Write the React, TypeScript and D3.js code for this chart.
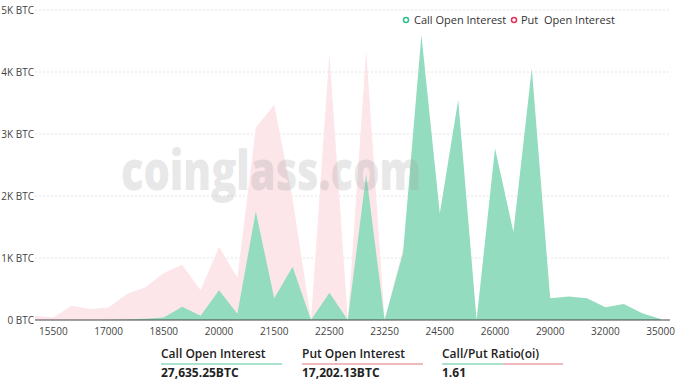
import React from 'react'
import * as d3 from 'd3'

// strike prices (category axis)
const strikes = [
  '15000', '15500', '16000', '16500', '17000', '17500', '18000', '18500', '19000', '19500',
  '20000', '20500', '21000', '21500', '22000', '22250', '22500', '22750', '23000', '23250',
  '23500', '24000', '24500', '25000', '25500', '26000', '27000', '28000', '29000', '30000',
  '31000', '32000', '33000', '34000', '35000',
]

// open interest in BTC
const callOI = [
  0, 0, 0, 0, 0, 10, 20, 40, 215, 70,
  480, 100, 1750, 350, 860, 0, 440, 0, 2350, 0,
  1080, 4600, 1720, 3550, 0, 2770, 1420, 4060, 350, 380,
  350, 205, 260, 110, 15,
]
const putOI = [
  70, 40, 230, 177, 200, 420, 530, 760, 890, 480,
  1180, 680, 3100, 3470, 1950, 0, 4300, 0, 4350, 0,
  1150, 600, 400, 300, 0, 200, 150, 100, 80, 60,
  50, 40, 30, 20, 5,
]

const yTicks = [0, 1000, 2000, 3000, 4000, 5000]
const yTickLabels = ['0 BTC', '1K BTC', '2K BTC', '3K BTC', '4K BTC', '5K BTC']

const summaryLabels = ['Call Open Interest', 'Put Open Interest', 'Call/Put Ratio(oi)']
const summaryValues = ['27,635.25BTC', '17,202.13BTC', '1.61']

const W = 682
const H = 384
const margin = { top: 10, right: 12, bottom: 64, left: 35 }

const GREEN = '#94dcc0'
const PINK = '#fce6e9'

export default function App() {
  const x = d3.scalePoint<string>()
    .domain(strikes)
    .range([margin.left, 660.6])

  const y = d3.scaleLinear()
    .domain([0, 5000])
    .range([H - margin.bottom, margin.top])

  const mkArea = (vals: number[]) =>
    d3.area<number>()
      .x((d, i) => x(strikes[i]) as number)
      .y0(y(0))
      .y1(d => y(d))(vals) as string

  const axisEnd = W - margin.right
  const font = '"Open Sans", "Noto Sans", sans-serif'

  return (
    <svg width={W} height={H} style={{ position: 'absolute', left: 0, top: 0, background: '#fff' }}
      fontFamily={font}>
      {/* grid */}
      {yTicks.slice(1).map(t => (
        <line key={t} x1={margin.left} x2={axisEnd} y1={y(t)} y2={y(t)}
          stroke="#e4e4e4" strokeDasharray="2,2" />
      ))}
      {yTicks.map((t, i) => (
        <text key={t} x={34} y={y(t)} dy="0.35em" textAnchor="end" fontSize={10} fill="#444">
          {yTickLabels[i]}
        </text>
      ))}

      <path d={mkArea(putOI)} fill={PINK} />
      <path d={mkArea(callOI)} fill={GREEN} />

      {/* watermark */}
      <text x={121} y={190} fontSize={54} fontWeight={800} fill="#999" opacity={0.22}
        fontFamily='"Open Sans", sans-serif' textLength={300} lengthAdjust="spacingAndGlyphs">
        coinglass.com
      </text>

      {/* x axis */}
      <line x1={margin.left} x2={axisEnd} y1={y(0)} y2={y(0)} stroke="#444" strokeWidth={1} />
      {strikes.map((s, i) => (i % 3 === 1 ? (
        <text key={s} x={x(s)} y={331} dy="0.35em" textAnchor="middle" fontSize={10} fill="#444">
          {s}
        </text>
      ) : null))}

      {/* legend */}
      <circle cx={406} cy={20} r={2.5} fill="#fff" stroke="#2fbf8c" strokeWidth={1.5} />
      <text x={414} y={20} dy="0.35em" fontSize={11} fill="#333">Call Open Interest</text>
      <circle cx={514} cy={20} r={2.5} fill="#fff" stroke="#e0335a" strokeWidth={1.5} />
      <text x={521} y={20} dy="0.35em" fontSize={11} fill="#333" style={{ whiteSpace: 'pre' }}>
        {'Put  Open Interest'}
      </text>

      {/* summary */}
      {summaryLabels.map((lab, i) => {
        const lx = [161, 302, 442][i]
        return (
          <g key={lab}>
            <text x={lx} y={358} fontSize={12} fontWeight={600} fill="#222">{lab}</text>
            {i === 2 ? (
              <>
                <line x1={lx} x2={lx + 61} y1={364} y2={364} stroke="#8fd8bb" strokeWidth={1.5} />
                <line x1={lx + 61} x2={lx + 121} y1={364} y2={364} stroke="#e9a3a8" strokeWidth={1.5} />
              </>
            ) : (
              <line x1={lx} x2={lx + 121} y1={364} y2={364}
                stroke={i === 0 ? '#8fd8bb' : '#e9a3a8'} strokeWidth={1.5} />
            )}
            <text x={lx} y={377} fontSize={12} fontWeight={700} fill="#222">{summaryValues[i]}</text>
          </g>
        )
      })}
    </svg>
  )
}
